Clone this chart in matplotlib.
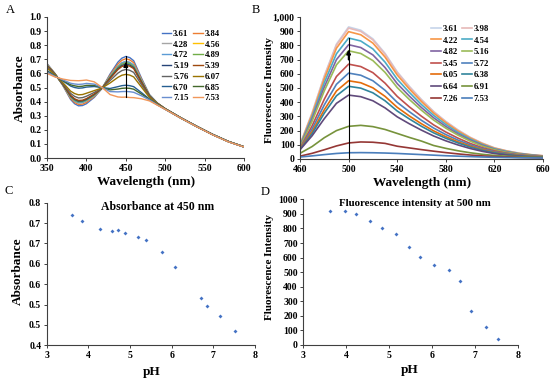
import matplotlib
matplotlib.use("Agg")
from matplotlib import pyplot as plt
from matplotlib.ticker import FuncFormatter
import numpy as np

plt.rcParams['font.family'] = ['Liberation Serif', 'DejaVu Serif']
plt.rcParams['font.weight'] = 'bold'

# ---- panel A : absorbance spectra ----
wl_a = [350, 360, 370, 380, 385, 390, 395, 400, 410, 420, 430, 440, 445, 450, 455,
        460, 470, 480, 490, 500, 520, 540, 560, 580, 600]
ph_a = ['3.61', '3.84', '4.28', '4.56', '4.72', '4.89', '5.19', '5.39',
        '5.76', '6.07', '6.70', '6.85', '7.15', '7.53']
abs_spectra = [
    [.670, .600, .515, .415, .385, .370, .372, .385, .430, .495, .595, .680, .708, .720, .712, .690, .565, .450, .390, .350, .285, .225, .168, .118, .080],
    [.666, .599, .517, .422, .394, .380, .382, .394, .436, .495, .587, .666, .693, .704, .696, .676, .557, .447, .389, .350, .285, .225, .168, .118, .080],
    [.662, .597, .520, .431, .404, .391, .393, .405, .443, .496, .578, .651, .676, .686, .679, .659, .548, .445, .388, .349, .285, .225, .168, .118, .080],
    [.661, .597, .521, .433, .407, .394, .396, .408, .445, .496, .576, .647, .671, .681, .674, .655, .546, .444, .388, .349, .285, .225, .168, .118, .080],
    [.661, .597, .521, .432, .405, .392, .394, .406, .444, .496, .577, .649, .674, .684, .677, .658, .547, .444, .388, .349, .285, .225, .168, .118, .080],
    [.659, .596, .522, .436, .410, .398, .400, .411, .447, .496, .573, .642, .665, .675, .668, .649, .543, .443, .388, .349, .284, .224, .167, .117, .079],
    [.657, .595, .523, .440, .416, .403, .405, .416, .451, .496, .568, .634, .656, .666, .659, .641, .538, .442, .387, .349, .284, .224, .167, .117, .079],
    [.655, .595, .525, .444, .420, .408, .410, .421, .454, .496, .564, .627, .649, .658, .651, .634, .534, .440, .387, .349, .284, .224, .167, .117, .079],
    [.648, .592, .529, .458, .437, .426, .428, .438, .465, .497, .549, .602, .620, .628, .622, .607, .519, .436, .385, .348, .284, .224, .167, .117, .079],
    [.639, .589, .535, .474, .457, .448, .450, .459, .478, .497, .532, .572, .587, .593, .588, .575, .502, .430, .383, .348, .283, .223, .167, .117, .079],
    [.621, .582, .547, .510, .500, .495, .497, .503, .507, .499, .493, .506, .513, .516, .513, .506, .463, .418, .379, .346, .283, .223, .166, .116, .078],
    [.616, .581, .550, .519, .512, .507, .509, .515, .515, .499, .483, .489, .494, .496, .494, .488, .453, .415, .378, .346, .282, .222, .166, .116, .078],
    [.610, .579, .554, .530, .525, .522, .524, .529, .524, .499, .471, .469, .471, .472, .470, .466, .441, .412, .377, .345, .282, .222, .166, .116, .078],
    [.600, .575, .560, .550, .549, .548, .550, .553, .540, .500, .450, .433, .431, .432, .429, .428, .420, .405, .375, .345, .282, .222, .165, .115, .078],
]
colors_a = ['#4472C4', '#ED7D31', '#A5A5A5', '#FFC000', '#5B9BD5', '#70AD47',
            '#264478', '#9E480E', '#636363', '#997300', '#255E91', '#43682B',
            '#698ED0', '#F1975A']

# ---- panel B : fluorescence spectra ----
wl_b = [460, 470, 480, 490, 500, 510, 520, 530, 540, 550, 560, 570, 580,
        590, 600, 610, 620, 630, 640, 650, 660]
ph_b = ['3.61', '3.98', '4.22', '4.54', '4.82', '5.16', '5.45', '5.72',
        '6.05', '6.38', '6.64', '6.91', '7.26', '7.53']
fl_spectra = [
    [102, 326, 586, 809, 930, 907, 846, 744, 614, 512, 419, 335, 265, 205, 153, 112, 79, 58, 42, 31, 23],
    [101, 323, 581, 802, 922, 899, 839, 738, 609, 507, 415, 332, 263, 203, 152, 111, 78, 57, 41, 30, 23],
    [99, 314, 565, 780, 897, 875, 816, 718, 592, 493, 404, 323, 256, 197, 148, 108, 76, 56, 40, 30, 22],
    [94, 298, 537, 741, 852, 831, 775, 682, 562, 469, 383, 307, 243, 187, 141, 102, 72, 53, 38, 28, 21],
    [89, 282, 507, 700, 805, 785, 733, 644, 531, 443, 362, 290, 229, 177, 133, 97, 68, 50, 36, 27, 20],
    [84, 267, 480, 663, 762, 743, 693, 610, 503, 419, 343, 274, 217, 168, 126, 91, 65, 47, 34, 25, 19],
    [74, 234, 421, 581, 668, 651, 608, 534, 441, 367, 301, 240, 190, 147, 110, 80, 57, 41, 30, 22, 17],
    [73, 212, 381, 526, 605, 590, 551, 484, 399, 333, 272, 218, 172, 133, 100, 73, 51, 38, 27, 20, 15],
    [72, 193, 347, 479, 551, 537, 501, 441, 364, 303, 248, 198, 157, 121, 91, 66, 47, 34, 25, 18, 14],
    [67, 179, 323, 445, 512, 499, 466, 410, 338, 282, 230, 184, 146, 113, 84, 61, 44, 32, 23, 17, 13],
    [65, 164, 284, 392, 450, 439, 410, 360, 297, 248, 203, 162, 128, 99, 74, 54, 38, 28, 20, 15, 11],
    [40, 88, 150, 200, 230, 237, 228, 208, 180, 152, 126, 95, 75, 58, 44, 33, 25, 20, 16, 13, 11],
    [20, 40, 65, 92, 113, 120, 118, 110, 90, 78, 66, 55, 45, 36, 28, 22, 17, 14, 11, 9, 8],
    [14, 22, 31, 39, 44, 45, 44, 42, 39, 35, 31, 27, 23, 20, 17, 14, 12, 10, 9, 8, 7],
]
colors_b = ['#C6D4EA', '#E6B9B8', '#F79646', '#4BACC6', '#8064A2', '#9BBB59',
            '#C0504D', '#4F81BD', '#E46C0A', '#31859C', '#604A7B', '#77933C',
            '#953735', '#4A7EBB']

# ---- panels C and D ----
ph_c = [3.61, 3.84, 4.28, 4.56, 4.72, 4.89, 5.19, 5.39, 5.76, 6.07, 6.70, 6.85, 7.15, 7.53]
abs450 = [.720, .704, .686, .681, .684, .675, .666, .658, .628, .593, .516, .496, .472, .434]
ph_d = [3.61, 3.98, 4.22, 4.54, 4.82, 5.16, 5.45, 5.72, 6.05, 6.38, 6.64, 6.91, 7.26, 7.53]
fl500 = [922, 922, 897, 851, 805, 760, 673, 604, 549, 513, 442, 231, 121, 43]
c_yticklabels = ['0.4', '0.5', '0.5', '0.6', '0.6', '0.7', '0.7', '0.8']

W, H = 550, 381
fig = plt.figure(figsize=(5.5, 3.81), dpi=100)


def box(l, t, r, b):
    return [l / W, 1 - b / H, (r - l) / W, (b - t) / H]


def excel_axes(ax):
    for s in ['top', 'right']:
        ax.spines[s].set_visible(False)
    for s in ['left', 'bottom']:
        ax.spines[s].set_color('#404040')
        ax.spines[s].set_linewidth(0.8)
    ax.tick_params(labelsize=7, length=2.5, width=0.7, pad=1.5, colors='#404040',
                   labelcolor='black')
    for lab in ax.get_xticklabels() + ax.get_yticklabels():
        lab.set_fontweight('bold')


def row_legend(ax, anchor, spacing):
    # excel fills the legend row by row
    h, l = ax.get_legend_handles_labels()
    order = list(range(0, len(h), 2)) + list(range(1, len(h), 2))
    ax.legend([h[i] for i in order], [l[i] for i in order], ncol=2, loc='upper left',
              bbox_to_anchor=anchor, frameon=False,
              prop={'size': 6.3, 'weight': 'bold'}, handlelength=1.1,
              handletextpad=0.2, columnspacing=0.5, labelspacing=spacing,
              borderaxespad=0)


def ftext(x, y, s, **kw):
    fig.text(x / W, 1 - y / H, s, ha='center', va='center', **kw)


# A
axA = fig.add_axes(box(47, 17, 244, 158))
for spec, c, lab in zip(abs_spectra, colors_a, ph_a):
    axA.plot(wl_a, spec, color=c, lw=1.0, label=lab)
axA.plot([450, 450], [0.43, 0.72], color='black', lw=0.8)
axA.annotate('', xy=(450, 0.70), xytext=(450, 0.64),
             arrowprops=dict(arrowstyle='-|>', color='black', lw=1.2, mutation_scale=6))
axA.set_xlim(350, 600)
axA.set_ylim(0, 1.0)
axA.set_xticks(np.arange(350, 601, 50))
axA.set_yticks(np.arange(0, 1.01, 0.1))
axA.yaxis.set_major_formatter(FuncFormatter(lambda v, p: '%.1f' % v))
excel_axes(axA)
row_legend(axA, (0.565, 0.935), 0.3)

# B
axB = fig.add_axes(box(300, 17, 543, 159))
for spec, c, lab in zip(fl_spectra, colors_b, ph_b):
    axB.plot(wl_b, spec, color=c, lw=1.2, label=lab)
axB.plot([500, 500], [0, 850], color='black', lw=0.8)
axB.annotate('', xy=(500, 790), xytext=(500, 680),
             arrowprops=dict(arrowstyle='-|>', color='black', lw=1.2, mutation_scale=6))
axB.set_xlim(460, 660)
axB.set_ylim(0, 1000)
axB.set_xticks(np.arange(460, 661, 40))
axB.set_yticks(np.arange(0, 1001, 100))
axB.yaxis.set_major_formatter(FuncFormatter(lambda v, p: '{:,.0f}'.format(v)))
excel_axes(axB)
row_legend(axB, (0.525, 0.97), 0.4)

# C
axC = fig.add_axes(box(46.7, 202.7, 255, 345.3))
axC.scatter(ph_c, abs450, marker='D', s=4, color='#4472C4', linewidths=0)
axC.set_xlim(3, 8)
axC.set_ylim(0.4, 0.75)
axC.set_xticks(np.arange(3, 9, 1))
axC.set_yticks(np.arange(0.4, 0.76, 0.05))
axC.set_yticklabels(c_yticklabels)
excel_axes(axC)
axC.text(0.53, 0.97, 'Absorbance at 450 nm', transform=axC.transAxes,
         ha='center', va='center', fontsize=8.5, fontweight='bold')

# D
axD = fig.add_axes(box(303.3, 199.3, 518.3, 345))
axD.scatter(ph_d, fl500, marker='D', s=4, color='#4472C4', linewidths=0)
axD.set_xlim(3, 8)
axD.set_ylim(0, 1000)
axD.set_xticks(np.arange(3, 9, 1))
axD.set_yticks(np.arange(0, 1001, 100))
excel_axes(axD)
axD.text(0.52, 0.973, 'Fluorescence intensity at 500 nm', transform=axD.transAxes,
         ha='center', va='center', fontsize=7.8, fontweight='bold')

# axis titles and panel letters
ftext(146, 181.5, 'Wavelength (nm)', fontsize=9.5, fontweight='bold')
ftext(422, 183, 'Wavelength (nm)', fontsize=9.5, fontweight='bold')
ftext(20, 88, 'Absorbance', fontsize=9.5, fontweight='bold', rotation=90)
ftext(270, 90, 'Fluorescence Intensity', fontsize=8, fontweight='bold', rotation=90)
ftext(152, 372, 'pH', fontsize=9.5, fontweight='bold')
ftext(410, 370, 'pH', fontsize=9.5, fontweight='bold')
ftext(17.5, 271, 'Absorbance', fontsize=9.5, fontweight='bold', rotation=90)
ftext(270, 267, 'Fluorescence Intensity', fontsize=8, fontweight='bold', rotation=90)
ftext(10, 10, 'A', fontsize=9, fontweight='normal')
ftext(256, 10, 'B', fontsize=9, fontweight='normal')
ftext(9, 191, 'C', fontsize=9, fontweight='normal')
ftext(265, 192, 'D', fontsize=9, fontweight='normal')

fig.savefig('out.png', dpi=100)
